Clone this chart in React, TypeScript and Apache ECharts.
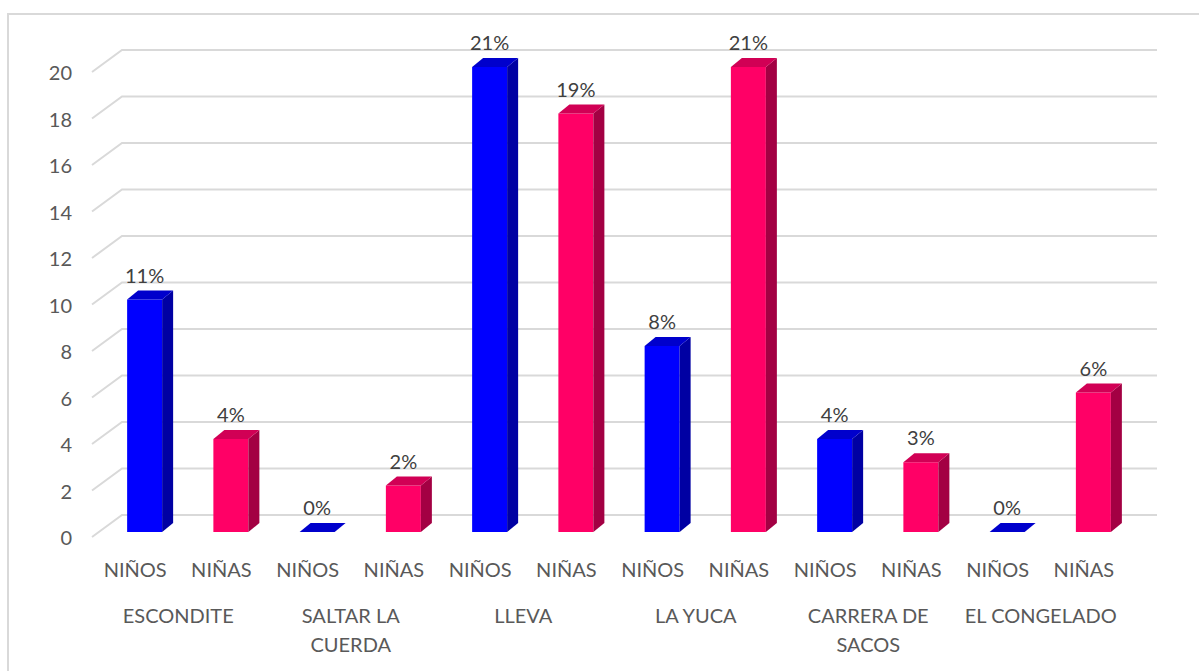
import React, { useEffect, useRef } from "react";
import * as echarts from "echarts";

// ---- data ----
const GAMES = ["ESCONDITE", "SALTAR LA\nCUERDA", "LLEVA", "LA YUCA", "CARRERA DE\nSACOS", "EL CONGELADO"];
const GROUPS = ["NIÑOS", "NIÑAS"];
const NINOS = [10, 0, 20, 8, 4, 0];
const NINAS = [4, 2, 18, 20, 3, 6];
const Y_MIN = 0;
const Y_MAX = 20;
const Y_STEP = 2;
const GRID_TICKS = [0, 2, 4, 6, 8, 10, 12, 14, 16, 18, 20];

const FONT = "Lato";
const TOTAL = [...NINOS, ...NINAS].reduce((a, b) => a + b, 0);

const COLORS: Record<string, { front: string; side: string; top: string }> = {
  "NIÑOS": { front: "#0000FF", side: "#0000A3", top: "#0000CC" },
  "NIÑAS": { front: "#FF0066", side: "#A30043", top: "#D10055" },
};

const SUB_CATS: string[] = [];
GAMES.forEach(() => GROUPS.forEach((g) => SUB_CATS.push(g)));

function barRender(colors: { front: string; side: string; top: string }) {
  return (params: any, api: any) => {
    const idx = api.value(0);
    const v = api.value(1);
    const base = api.coord([idx, 0]);
    const top = api.coord([idx, v]);
    const w = 35;
    const x0 = base[0] - 8;
    const x1 = x0 + w;
    const yb = base[1] - 5;
    const yt = top[1] - 5;
    const dx = 11;
    const dy = -9;
    const children: any[] = [];
    if (yb - yt > 0.5) {
      children.push({
        type: "rect",
        shape: { x: x0, y: yt, width: w, height: yb - yt },
        style: { fill: colors.front },
      });
      children.push({
        type: "polygon",
        shape: { points: [[x1, yt], [x1 + dx, yt + dy], [x1 + dx, yb + dy], [x1, yb]] },
        style: { fill: colors.side },
      });
    }
    children.push({
      type: "polygon",
      shape: { points: [[x0, yt], [x0 + dx, yt + dy], [x1 + dx, yt + dy], [x1, yt]] },
      style: { fill: colors.top },
    });
    const pct = Math.round((v / TOTAL) * 100) + "%";
    children.push({
      type: "text",
      x: x0 + w / 2,
      y: yt - 25,
      style: {
        text: pct,
        fill: "#404040",
        fontSize: 20,
        fontFamily: FONT,
        align: "center",
        verticalAlign: "middle",
      },
    });
    return { type: "group", children };
  };
}

export default function App() {
  const ref = useRef<HTMLDivElement>(null);
  useEffect(() => {
    if (!ref.current) return;
    const chart = echarts.init(ref.current, undefined, { renderer: "svg" });
    const ninosData = NINOS.map((v, i) => [i * 2, v]);
    const ninasData = NINAS.map((v, i) => [i * 2 + 1, v]);
    chart.setOption({
      animation: false,
      backgroundColor: "#ffffff",
      graphic: [
        {
          type: "rect",
          shape: { x: 8, y: 14, width: 1400, height: 900 },
          style: { fill: "none", stroke: "#d9d9d9", lineWidth: 2 },
          silent: true,
        },
      ],
      grid: { left: 92, right: 72, top: 72, bottom: 134, containLabel: false },
      xAxis: [
        {
          type: "category",
          data: SUB_CATS,
          position: "bottom",
          axisLine: { show: false },
          axisTick: { show: false },
          splitLine: { show: false },
          axisLabel: { interval: 0, margin: 22, fontSize: 20, color: "#595959", fontFamily: FONT },
        },
        {
          type: "category",
          data: GAMES,
          position: "bottom",
          offset: 0,
          axisLine: { show: false },
          axisTick: { show: false },
          splitLine: { show: false },
          axisLabel: {
            interval: 0,
            margin: 63,
            fontSize: 20,
            lineHeight: 29,
            color: "#595959",
            fontFamily: FONT,
            align: "center",
          },
        },
      ],
      yAxis: {
        type: "value",
        min: Y_MIN,
        max: Y_MAX,
        interval: Y_STEP,
        axisLine: { show: false },
        axisTick: { show: false },
        splitLine: { show: false },
        axisLabel: { margin: 20, fontSize: 20, color: "#595959", fontFamily: FONT },
      },
      series: [
        {
          type: "custom",
          name: "grid",
          silent: true,
          z: 1,
          data: GRID_TICKS.map((t) => [0, t]),
          renderItem: (params: any, api: any) => {
            const cs = params.coordSys;
            const y = api.coord([0, api.value(1)])[1];
            return {
              type: "polyline",
              shape: {
                points: [
                  [cs.x, y],
                  [cs.x + 30, y - 22],
                  [cs.x + cs.width + 30, y - 22],
                ],
              },
              style: { stroke: "#d9d9d9", lineWidth: 2, fill: null },
            };
          },
        },
        {
          type: "custom",
          name: "NIÑOS",
          z: 2,
          data: ninosData,
          renderItem: barRender(COLORS["NIÑOS"]),
        },
        {
          type: "custom",
          name: "NIÑAS",
          z: 2,
          data: ninasData,
          renderItem: barRender(COLORS["NIÑAS"]),
        },
      ],
    });
    return () => chart.dispose();
  }, []);
  return (
    <div
      ref={ref}
      style={{ position: "absolute", left: 0, top: 0, width: 1199, height: 671, background: "#fff" }}
    />
  );
}
